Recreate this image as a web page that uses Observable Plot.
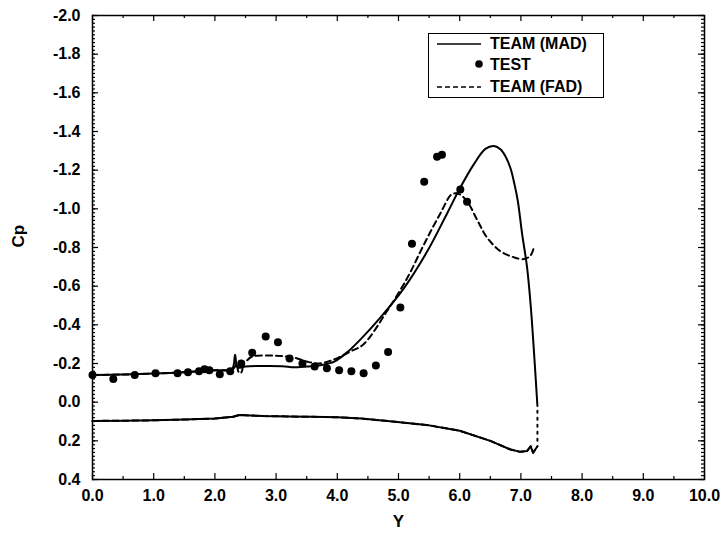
<!DOCTYPE html>
<html>
<head>
<meta charset="utf-8">
<script src="https://cdn.jsdelivr.net/npm/d3@7"></script>
<script src="https://cdn.jsdelivr.net/npm/@observablehq/plot@0.6"></script>
<style>
  html, body { margin: 0; padding: 0; background: #fff; }
  #wrap { position: relative; width: 720px; height: 533px; }
  #legend { position: absolute; left: 428px; top: 33px; width: 174px; height: 63px;
            border: 1.5px solid #000; background: #fff;
            font: bold 16px "Liberation Sans", Arial, sans-serif; color: #000; }
  #legend .row { position: absolute; left: 0; height: 20px; display: flex; align-items: center; }
  #legend svg { display: block; }
  #legend span { position: absolute; left: 61px; white-space: nowrap; }
</style>
</head>
<body>
<div id="wrap">
  <div id="chart"></div>
  <div id="legend">
    <div class="row" style="top:0px"><svg width="60" height="20"><line x1="8" x2="52" y1="10" y2="10" stroke="#000" stroke-width="1.5"/></svg><span>TEAM (MAD)</span></div>
    <div class="row" style="top:21px"><svg width="60" height="20"><circle cx="50" cy="9" r="3.8" fill="#000"/></svg><span>TEST</span></div>
    <div class="row" style="top:43px"><svg width="60" height="20"><line x1="8" x2="52" y1="10" y2="10" stroke="#000" stroke-width="1.5" stroke-dasharray="5,3"/></svg><span>TEAM (FAD)</span></div>
  </div>
</div>
<script>
// TEAM (MAD): upper surface, spanwise station Y vs pressure coefficient
const madUpperY  = [0.0, 0.5, 1.0, 1.5, 2.0, 2.28, 2.33, 2.37, 2.5, 2.8, 3.1, 3.3, 3.5, 3.7, 3.85, 3.95, 4.15, 4.38, 4.71, 5.09, 5.47, 5.8, 6.01, 6.23, 6.42, 6.56, 6.67, 6.75, 6.83, 6.9, 6.95, 7.02, 7.1, 7.16, 7.22, 7.27];
const madUpperCp = [-0.14, -0.143, -0.148, -0.155, -0.165, -0.172, -0.245, -0.18, -0.185, -0.187, -0.186, -0.18, -0.185, -0.19, -0.2, -0.21, -0.255, -0.325, -0.44, -0.59, -0.78, -0.98, -1.11, -1.23, -1.31, -1.325, -1.307, -1.27, -1.21, -1.12, -1.04, -0.87, -0.7, -0.5, -0.23, 0.02];

// TEAM (MAD) / (FAD): lower surface
const lowerY  = [0.0, 0.5, 1.0, 1.5, 2.0, 2.3, 2.4, 2.5, 2.8, 3.2, 3.6, 4.0, 4.4, 4.9, 5.5, 6.0, 6.5, 6.83, 6.99, 7.1, 7.16, 7.2, 7.27];
const lowerCp = [0.097, 0.096, 0.094, 0.09, 0.085, 0.075, 0.066, 0.068, 0.072, 0.074, 0.076, 0.078, 0.085, 0.1, 0.12, 0.148, 0.2, 0.245, 0.257, 0.253, 0.228, 0.262, 0.228];

// Trailing-edge closure between lower and upper surfaces
const closureY  = [7.27, 7.27];
const closureCp = [0.2, 0.03];

// TEAM (FAD): upper surface
const fadUpperY  = [0.0, 0.5, 1.0, 1.5, 2.0, 2.3, 2.36, 2.38, 2.42, 2.45, 2.44, 2.4, 2.5, 2.6, 3.0, 3.3, 3.5, 3.7, 3.9, 4.2, 4.43, 4.81, 5.14, 5.36, 5.52, 5.69, 5.85, 5.92, 6.0, 6.12, 6.29, 6.45, 6.67, 6.88, 7.05, 7.16, 7.22];
const fadUpperCp = [-0.14, -0.143, -0.148, -0.155, -0.165, -0.172, -0.2, -0.16, -0.15, -0.17, -0.2, -0.205, -0.21, -0.235, -0.24, -0.23, -0.21, -0.2, -0.215, -0.26, -0.3, -0.47, -0.64, -0.78, -0.88, -0.98, -1.07, -1.08, -1.075, -1.04, -0.94, -0.85, -0.78, -0.75, -0.74, -0.76, -0.81];

// TEST: measured pressure coefficients
const testY  = [0.0, 0.34, 0.69, 1.03, 1.39, 1.56, 1.74, 1.83, 1.91, 2.08, 2.25, 2.43, 2.61, 2.83, 3.03, 3.22, 3.43, 3.63, 3.83, 4.03, 4.23, 4.43, 4.63, 4.83, 5.03, 5.22, 5.42, 5.63, 5.71, 6.01, 6.12];
const testCp = [-0.14, -0.12, -0.14, -0.15, -0.15, -0.155, -0.16, -0.17, -0.165, -0.145, -0.16, -0.2, -0.255, -0.34, -0.31, -0.226, -0.2, -0.185, -0.175, -0.165, -0.16, -0.15, -0.19, -0.26, -0.49, -0.82, -1.14, -1.27, -1.28, -1.10, -1.036];

// Axis ticks and labels
const xTicks = [0, 1, 2, 3, 4, 5, 6, 7, 8, 9, 10];
const xMinorTicks = d3.range(0.5, 10, 1);
const yTicks = [-2.0, -1.8, -1.6, -1.4, -1.2, -1.0, -0.8, -0.6, -0.4, -0.2, 0.0, 0.2, 0.4];
const yMinorTicks = d3.range(-200, 41, 2).map(v => v / 100);
const xTitle = "Y";
const yTitle = "Cp";

const xDomain = [0, 10];
const yDomain = [0.4, -2.0];   // Cp plotted with negative values upward

const pts = (xs, ys) => xs.map((x, i) => ({x, cp: ys[i]}));
const madUpper = pts(madUpperY, madUpperCp);
const lower = pts(lowerY, lowerCp);
const closure = pts(closureY, closureCp);
const fadUpper = pts(fadUpperY, fadUpperCp);
const test = pts(testY, testCp);

const fmt = d => d.toFixed(1);

// frame geometry, used to express inward tick lengths in data units
const W = 720, H = 533, ML = 92, MR = 16, MT = 15, MB = 54;
const FW = W - ML - MR, FH = H - MT - MB;
const xPerPx = (xDomain[1] - xDomain[0]) / FW;
const yPerPx = (yDomain[0] - yDomain[1]) / FH;
const tickStyle = {stroke: "#000", strokeWidth: 1.2};

const [x0, x1] = xDomain;
const [yBot, yTop] = yDomain;
const ticksBottom = len => ({y1: yBot, y2: yBot - len * yPerPx});
const ticksTop = len => ({y1: yTop, y2: yTop + len * yPerPx});
const ticksLeft = len => ({x1: x0, x2: x0 + len * xPerPx});
const ticksRight = len => ({x1: x1, x2: x1 - len * xPerPx});

const chart = Plot.plot({
  width: W,
  height: H,
  marginLeft: ML,
  marginRight: MR,
  marginTop: MT,
  marginBottom: MB,
  x: {domain: xDomain, label: null},
  y: {domain: yDomain, label: null},
  style: {
    fontFamily: "'Liberation Sans', Arial, sans-serif",
    fontSize: "16px",
    fontWeight: "bold",
    color: "#000",
    background: "#fff"
  },
  marks: [
    Plot.frame({stroke: "#000", strokeWidth: 1.5}),
    // inward tick marks: bottom and top
    Plot.ruleX(xTicks, {x: d => d, ...ticksBottom(6), ...tickStyle}),
    Plot.ruleX(xMinorTicks, {x: d => d, ...ticksBottom(3), ...tickStyle}),
    Plot.ruleX(xTicks, {x: d => d, ...ticksTop(6), ...tickStyle}),
    Plot.ruleX(xMinorTicks, {x: d => d, ...ticksTop(3), ...tickStyle}),
    // inward tick marks: left and right
    Plot.ruleY(yTicks, {y: d => d, ...ticksLeft(6), ...tickStyle}),
    Plot.ruleY(yMinorTicks, {y: d => d, ...ticksLeft(3), ...tickStyle}),
    Plot.ruleY(yTicks, {y: d => d, ...ticksRight(6), ...tickStyle}),
    Plot.ruleY(yMinorTicks, {y: d => d, ...ticksRight(3), ...tickStyle}),
    // tick labels
    Plot.axisY(yTicks, {anchor: "left", tickSize: 0, tickPadding: 12, tickFormat: fmt, label: null}),
    Plot.axisX(xTicks, {anchor: "bottom", tickSize: 0, tickPadding: 10, tickFormat: fmt, label: null}),
    // axis titles
    Plot.text([xTitle], {frameAnchor: "bottom", dy: 42, fontSize: 17, fontWeight: "bold", lineAnchor: "middle"}),
    Plot.text([yTitle], {frameAnchor: "left", dx: -74, rotate: -90, fontSize: 17, fontWeight: "bold", lineAnchor: "middle"}),
    // computed curves
    Plot.line(lower, {x: "x", y: "cp", stroke: "#000", strokeWidth: 2, strokeDasharray: "6,4"}),
    Plot.line(lower, {x: "x", y: "cp", stroke: "#000", strokeWidth: 2}),
    Plot.line(closure, {x: "x", y: "cp", stroke: "#000", strokeWidth: 2, strokeDasharray: "2,5"}),
    Plot.line(fadUpper, {x: "x", y: "cp", stroke: "#000", strokeWidth: 2, strokeDasharray: "6,4", curve: "catmull-rom"}),
    Plot.line(madUpper, {x: "x", y: "cp", stroke: "#000", strokeWidth: 2, curve: "catmull-rom"}),
    // measurements
    Plot.dot(test, {x: "x", y: "cp", r: 4, fill: "#000"})
  ]
});

document.getElementById("chart").appendChild(chart);
</script>
</body>
</html>
